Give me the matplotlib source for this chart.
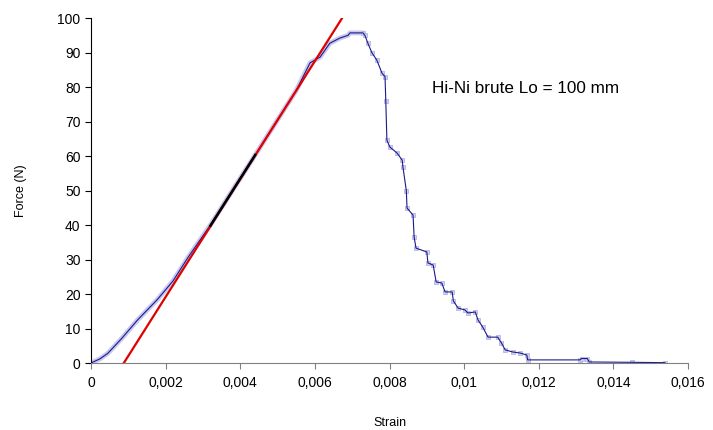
import matplotlib.pyplot as plt

plt.rcParams['font.family'] = ['Liberation Sans', 'DejaVu Sans']

strain = [0, 0.00024, 0.00045, 0.00083, 0.00125, 0.00177, 0.0022, 0.0026, 0.0032, 0.0038, 0.0044,
          0.005, 0.0055, 0.00587, 0.00614, 0.0064, 0.00667, 0.00689, 0.00694, 0.00729,
          0.00734, 0.00742, 0.00753, 0.00766, 0.0078, 0.00788, 0.0079, 0.00793, 0.00801,
          0.0082, 0.00834, 0.00836, 0.00845, 0.00847, 0.00863, 0.00866, 0.00871, 0.009,
          0.00903, 0.00917, 0.00925, 0.0094, 0.00949, 0.00968, 0.00971, 0.00984, 0.01002,
          0.0101, 0.0103, 0.01037, 0.0105, 0.01064, 0.0109, 0.011, 0.0111, 0.0113,
          0.0115, 0.01168, 0.0117, 0.0131, 0.01315, 0.0133, 0.01335, 0.0145, 0.01538]
force = [0, 1.2, 2.8, 7.2, 12.5, 18.3, 23.8, 30.6, 40.0, 50.2, 60.3,
         70.5, 79.0, 87.0, 88.7, 92.7, 94.2, 95.0, 95.7, 95.7,
         95.0, 92.7, 89.9, 87.8, 84.0, 83.0, 76.0, 64.6, 62.6,
         60.9, 58.8, 56.8, 50.0, 44.9, 42.9, 36.5, 33.3, 32.2,
         29.0, 28.4, 23.5, 23.2, 20.6, 20.6, 18.0, 15.9, 15.4,
         14.5, 14.8, 12.5, 10.4, 7.5, 7.5, 5.8, 3.8, 3.2,
         2.9, 2.3, 0.9, 0.9, 1.3, 1.3, 0.3, 0.2, 0.1]
n_rise = 20  # points up to the peak

# fitted modulus line and fit range
fit_strain = [0.00088, 0.00673]
fit_force = [0, 100]
range_strain = [0.0032, 0.0044]
range_force = [39.8, 60.3]

xticks = [0, 0.002, 0.004, 0.006, 0.008, 0.01, 0.012, 0.014, 0.016]
xlabels = ['0', '0,002', '0,004', '0,006', '0,008', '0,01', '0,012', '0,014', '0,016']
yticks = [0, 10, 20, 30, 40, 50, 60, 70, 80, 90, 100]

fig = plt.figure(figsize=(7.13, 4.3), dpi=100)
ax = fig.add_axes([0.1276, 0.1558, 0.8374, 0.8022])

# light halo of the dense data markers on the rising part
ax.plot(strain[:n_rise], force[:n_rise], color='#c8c8ee', linewidth=3.5, solid_capstyle='round')
# sparse markers on the falling part
ax.plot(strain[n_rise - 1:], force[n_rise - 1:], linestyle='none', marker='s', markersize=3,
        markerfacecolor='#d0d0f0', markeredgecolor='#b4b4e4', markeredgewidth=0.6)
ax.plot(strain, force, color='#1a1a8c', linewidth=0.8)

ax.plot(fit_strain, fit_force, color='#e00000', linewidth=1.6)
ax.plot(range_strain, range_force, color='black', linewidth=1.8)

ax.text(0.00914, 79.7, 'Hi-Ni brute Lo = 100 mm', fontsize=12.3, va='center', ha='left')

ax.set_xlim(0, 0.016)
ax.set_ylim(0, 100)
ax.set_xticks(xticks)
ax.set_xticklabels(xlabels)
ax.set_yticks(yticks)
ax.tick_params(labelsize=10, length=4, direction='out')
ax.tick_params(axis='x', color='#808080', pad=5)
ax.spines['top'].set_visible(False)
ax.spines['right'].set_visible(False)
ax.spines['bottom'].set_color('#808080')

ax.set_xlabel('Strain', fontsize=9, labelpad=20)
ax.set_ylabel('Force (N)', fontsize=9, labelpad=22)

plt.savefig('out.png')
